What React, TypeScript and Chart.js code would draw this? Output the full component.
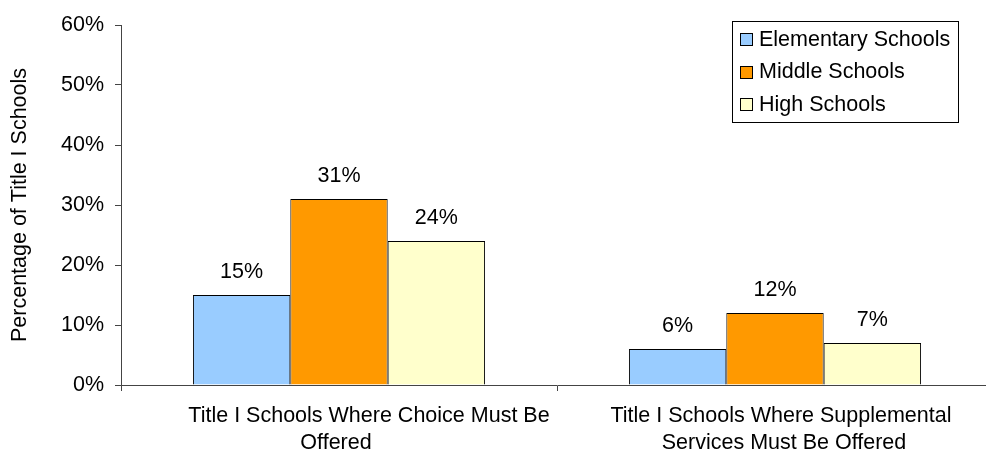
import React, { useEffect, useRef } from 'react';
import { Chart, registerables } from 'chart.js';
Chart.register(...registerables);

const categories: string[][] = [
  ["Title I Schools Where Choice Must Be", "Offered"],
  ["Title I Schools Where Supplemental", "Services Must Be Offered"],
];
const seriesNames = ["Elementary Schools", "Middle Schools", "High Schools"];
const elementary = [15, 6];
const middle = [31, 12];
const high = [24, 7];
const yMin = 0;
const yMax = 60;
const yStep = 10;
const colors = ["#99CCFF", "#FF9900", "#FFFFCC"];

const FONT = "'Liberation Sans', Arial, sans-serif";
const FS = 21.5;

// per-line horizontal nudges of the category labels (as laid out in the original)
const labelNudge = [[30, -3], [6, 9]];

const valueLabels = {
  id: 'valueLabels',
  afterDatasetsDraw(chart: any) {
    const ctx = chart.ctx;
    ctx.save();
    ctx.font = `${FS}px ${FONT}`;
    ctx.fillStyle = '#000';
    ctx.textAlign = 'center';
    ctx.textBaseline = 'middle';
    chart.data.datasets.forEach((ds: any, i: number) => {
      const meta = chart.getDatasetMeta(i);
      meta.data.forEach((el: any, j: number) => {
        ctx.fillText(ds.data[j] + '%', el.x, el.y - 23);
      });
    });
    ctx.restore();
  },
};

const categoryLabels = {
  id: 'categoryLabels',
  afterDraw(chart: any) {
    const ctx = chart.ctx;
    const xs = chart.scales.x;
    const top = chart.chartArea.bottom;
    ctx.save();
    ctx.font = `${FS}px ${FONT}`;
    ctx.fillStyle = '#000';
    ctx.textAlign = 'center';
    ctx.textBaseline = 'middle';
    (chart.data.labels as string[][]).forEach((lines, i) => {
      const cx = xs.getPixelForValue(i);
      lines.forEach((line, k) => {
        const dx = (labelNudge[i] && labelNudge[i][k]) || 0;
        ctx.fillText(line, cx + dx, top + 31.5 + k * 26.5);
      });
    });
    ctx.restore();
  },
};

const boxLegend = {
  id: 'boxLegend',
  afterDraw(chart: any) {
    const ctx = chart.ctx;
    const left = 732.5, top = 21.5, w = 226, h = 101;
    ctx.save();
    ctx.fillStyle = '#fff';
    ctx.fillRect(left, top, w, h);
    ctx.strokeStyle = '#000';
    ctx.lineWidth = 1;
    ctx.strokeRect(left, top, w, h);
    ctx.font = `${FS}px ${FONT}`;
    ctx.textAlign = 'left';
    ctx.textBaseline = 'middle';
    chart.data.datasets.forEach((ds: any, i: number) => {
      const cy = 39 + i * 32.5;
      ctx.fillStyle = ds.backgroundColor;
      ctx.fillRect(740.5, Math.round(cy - 6) + 0.5, 12, 12);
      ctx.strokeStyle = '#000';
      ctx.strokeRect(740.5, Math.round(cy - 6) + 0.5, 12, 12);
      ctx.fillStyle = '#000';
      ctx.fillText(ds.label, 759, cy + 1);
    });
    ctx.restore();
  },
};

export default function App() {
  const ref = useRef<HTMLCanvasElement>(null);
  useEffect(() => {
    if (!ref.current) return;
    const data = [elementary, middle, high];
    const chart = new Chart(ref.current, {
      type: 'bar',
      data: {
        labels: categories,
        datasets: seriesNames.map((name, i) => ({
          label: name,
          data: data[i],
          backgroundColor: colors[i],
          borderColor: '#000',
          borderWidth: 1,
          categoryPercentage: 0.67,
          barPercentage: 1,
        })),
      },
      options: {
        responsive: false,
        animation: false,
        layout: { padding: { top: 25, right: 7, left: 0, bottom: 0 } },
        plugins: {
          legend: { display: false },
          tooltip: { enabled: false },
        },
        scales: {
          x: {
            grid: { drawOnChartArea: false, tickLength: 6, color: '#444', offset: true },
            border: { display: true, color: '#444', width: 1 },
            ticks: { display: false },
            afterFit: (scale: any) => { scale.height = 66; },
          },
          y: {
            min: yMin,
            max: yMax,
            grid: { drawOnChartArea: false, tickLength: 6, color: '#444' },
            border: { display: true, color: '#444', width: 1 },
            ticks: {
              stepSize: yStep,
              color: '#000',
              font: { family: FONT, size: FS },
              padding: 11,
              callback: (v: any) => v + '%',
            },
            title: {
              display: true,
              text: 'Percentage of Title I Schools',
              color: '#000',
              font: { family: FONT, size: FS, lineHeight: 1.2 },
              padding: { top: 7, bottom: 0 },
            },
            afterFit: (scale: any) => { scale.width = 121; },
          },
        },
      },
      plugins: [valueLabels, categoryLabels, boxLegend],
    });
    return () => chart.destroy();
  }, []);
  return (
    <div style={{ position: 'fixed', left: 0, top: 0, width: 986, height: 451, overflow: 'hidden', background: '#fff' }}>
      <canvas ref={ref} width={1000} height={451} style={{ width: 1000, height: 451, display: 'block' }} />
    </div>
  );
}
